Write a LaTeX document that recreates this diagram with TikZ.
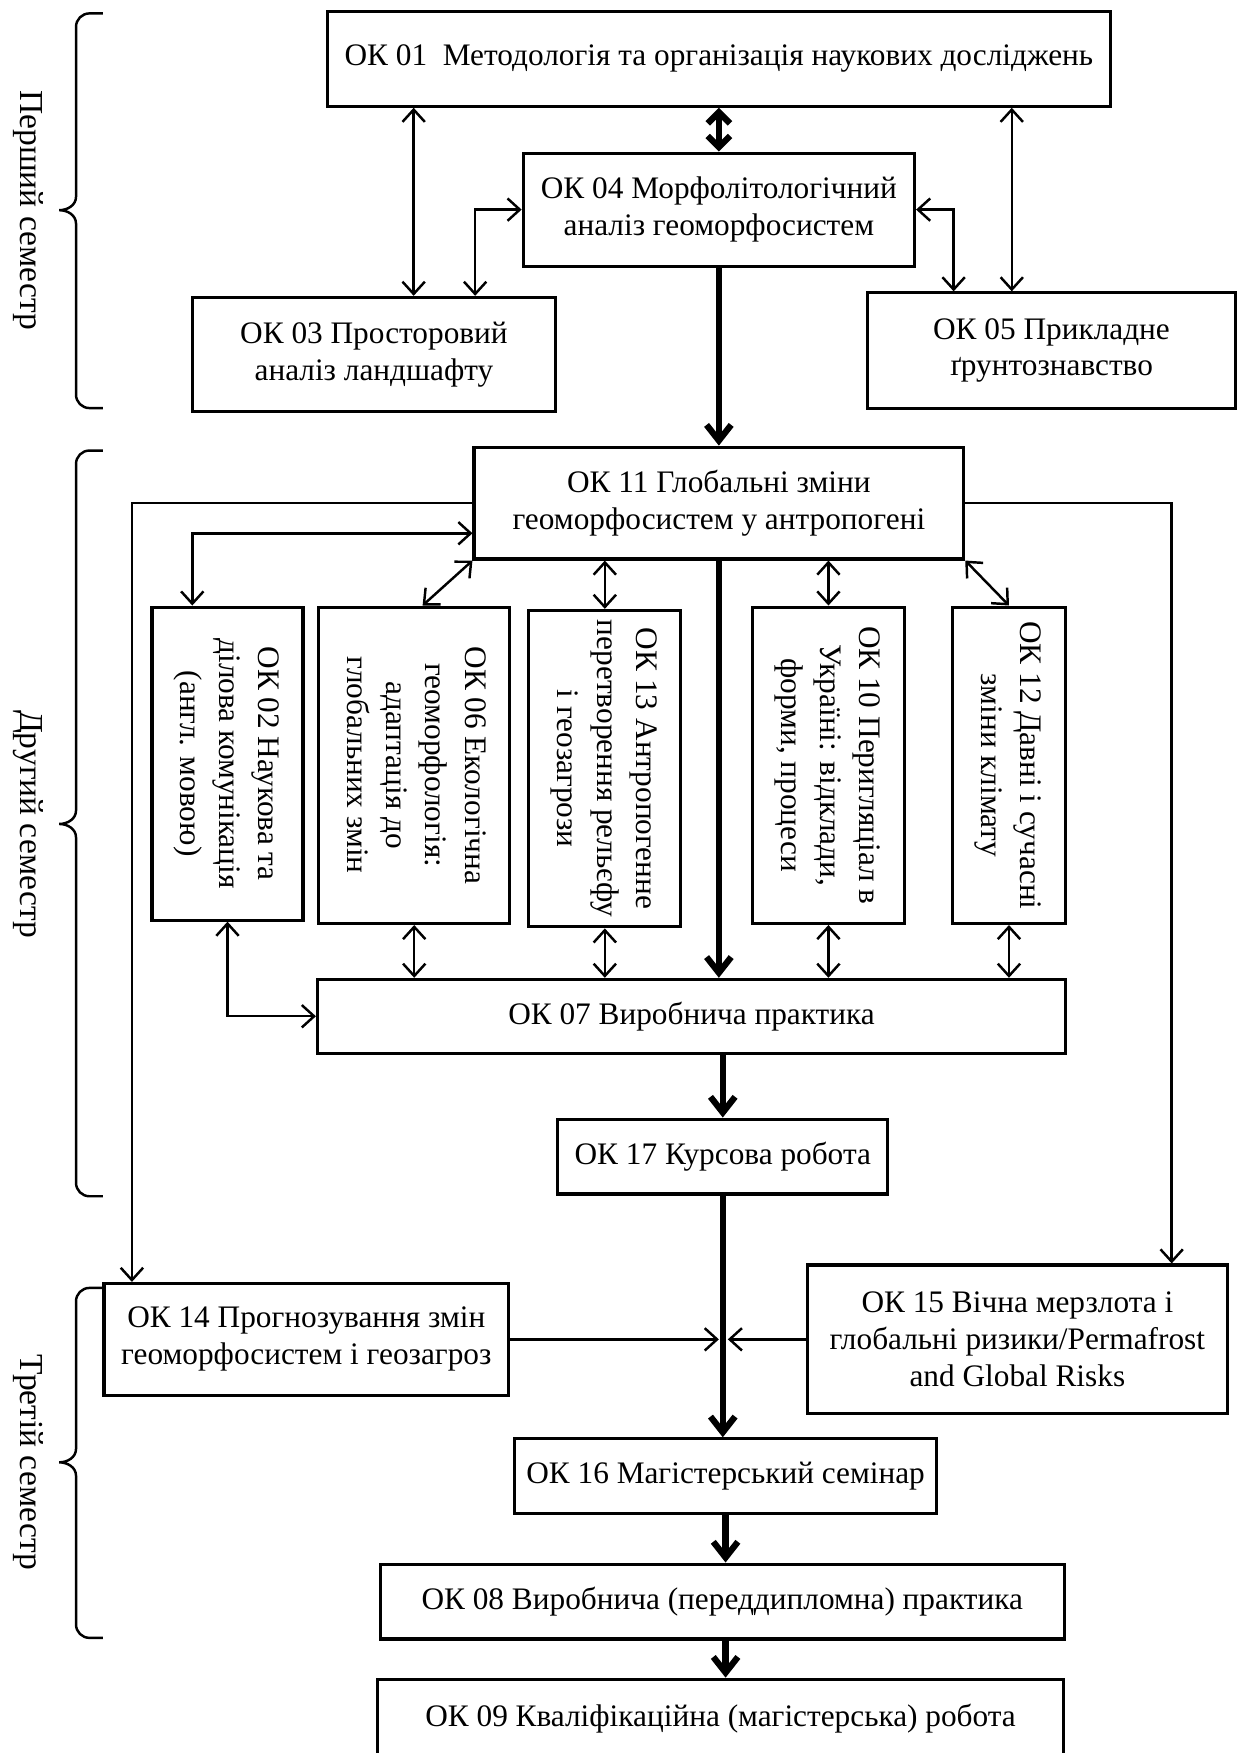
\documentclass[tikz,border=0pt]{standalone}
\usepackage{fontspec}
\setmainfont{Liberation Serif}
\usetikzlibrary{arrows.meta}

\newcommand{\vtext}[1]{\rotatebox{-90}{\begin{tabular}{@{}c@{}}#1\end{tabular}}}

\begin{document}
\begin{tikzpicture}[x=0.5pt, y=-0.5pt,
        box/.style={draw, line width=1.4pt, align=center, inner sep=2pt, font=\fontsize{14}{16.5}\selectfont},
        vbox/.style={box, font=\fontsize{14}{17.5}\selectfont},
        link/.style={line width=1.1pt, >={Straight Barb[length=5.5pt,width=10pt]}},
        heavy/.style={line width=2.8pt, >={Straight Barb[length=7pt,width=11pt]}},
        brc/.style={line width=1.1pt},
        sem/.style={rotate=-90, font=\fontsize{15}{18}\selectfont}]
                \useasboundingbox (0,0) rectangle (1106,1568);
                \node[box, minimum width=350pt, minimum height=42.5pt] (ok01) at (643,52.5) {ОК 01\ \ Методологія та організація наукових досліджень};
                \node[box, minimum width=175pt, minimum height=50.5pt] (ok04) at (643,187.5) {ОК 04 Морфолітологічний\\аналіз геоморфосистем};
                \node[box, minimum width=162.5pt, minimum height=51pt] (ok03) at (334.5,317) {ОК 03 Просторовий\\аналіз ландшафту};
                \node[box, minimum width=164.5pt, minimum height=51.5pt] (ok05) at (940.5,313.5) {ОК 05 Прикладне\\ґрунтознавство};
                \node[box, minimum width=219pt, minimum height=50pt] (ok11) at (643,450) {ОК 11 Глобальні зміни\\геоморфосистем у антропогені};
                \node[vbox, minimum width=67.5pt, minimum height=140pt] (ok02) at (203.5,683) {\vtext{ОК 02 Наукова та\\ділова комунікація\\(англ. мовою)}};
                \node[vbox, minimum width=85.5pt, minimum height=141.5pt] (ok06) at (370.5,684.5) {\vtext{ОК 06 Екологічна\\геоморфологія:\\адаптація до\\глобальних змін}};
                \node[vbox, minimum width=68pt, minimum height=141.5pt] (ok13) at (541,687.5) {\vtext{ОК 13 Антропогенне\\перетворення рельєфу\\і геозагрози}};
                \node[vbox, minimum width=68pt, minimum height=141.5pt] (ok10) at (741,684.5) {\vtext{ОК 10 Перигляціал в\\Україні: відклади,\\форми, процеси}};
                \node[vbox, minimum width=50.5pt, minimum height=141.5pt] (ok12) at (902.5,684.5) {\vtext{ОК 12 Давні і сучасні\\зміни клімату}};
                \node[box, minimum width=334.5pt, minimum height=33pt] (ok07) at (618.5,909) {ОК 07 Виробнича практика};
                \node[box, minimum width=147.5pt, minimum height=33.5pt] (ok17) at (646.5,1034.5) {ОК 17 Курсова робота};
                \node[box, minimum width=181pt, minimum height=50pt] (ok14) at (274,1198) {ОК 14 Прогнозування змін\\геоморфосистем і геозагроз};
                \node[box, minimum width=188pt, minimum height=66.5pt] (ok15) at (910,1198) {ОК 15 Вічна мерзлота і\\глобальні ризики/Permafrost\\and Global Risks};
                \node[box, minimum width=189pt, minimum height=33.5pt] (ok16) at (649,1320.5) {ОК 16 Магістерський семінар};
                \node[box, minimum width=306pt, minimum height=33.5pt] (ok08) at (646,1432.5) {ОК 08 Виробнича (переддипломна) практика};
                \node[box, minimum width=306.5pt, minimum height=35pt] (ok09) at (644.5,1537) {ОК 09 Кваліфікаційна (магістерська) робота};
                \draw[heavy, >={Straight Barb[length=5pt,width=10pt]}, <->] (ok04.north) -- (ok01.south);
                \draw[link, <->] (ok01.south -| 370,0) -- (ok03.north -| 370,0);
                \draw[link, <->] (ok03.north -| 425,0) |- (ok04.west);
                \draw[link, <->] (ok04.east) -| (ok05.north -| 853,0);
                \draw[link, <->] (ok01.south -| 905,0) -- (ok05.north -| 905,0);
                \draw[heavy, ->] (ok04.south) -- (ok11.north);
                \draw[link, ->] (ok11.west) -| (ok14.north -| 118,0);
                \draw[link, ->] (ok11.east) -| (ok15.north -| 1048,0);
                \draw[link, <->] (ok11.west |- 0,477) -| (ok02.north -| 172,0);
                \draw[link, <->] (ok11.south west) -- (ok06.north -| 378,0);
                \draw[link, <->] (ok11.south -| ok13.north) -- (ok13.north);
                \draw[heavy, ->] (ok11.south) -- (ok11.south |- ok07.north);
                \draw[link, <->] (ok11.south -| ok10.north) -- (ok10.north);
                \draw[link, <->] (ok11.south east) -- (ok12.north);
                \draw[link, <->] (ok02.south) |- (ok07.west);
                \draw[link, <->] (ok06.south) -- (ok06.south |- ok07.north);
                \draw[link, <->] (ok13.south) -- (ok13.south |- ok07.north);
                \draw[link, <->] (ok10.south) -- (ok10.south |- ok07.north);
                \draw[link, <->] (ok12.south) -- (ok12.south |- ok07.north);
                \draw[heavy, ->] (ok07.south -| ok17.north) -- (ok17.north);
                \draw[heavy, ->] (ok17.south) -- (ok17.south |- ok16.north);
                \coordinate (merge) at (647,1198);
                \draw[link, ->] (ok14.east) -- ([xshift=-2pt]merge);
                \draw[link, ->] (ok15.west) -- ([xshift=2pt]merge);
                \draw[heavy, ->] (ok16.south) -- (ok16.south |- ok08.north);
                \draw[heavy, ->] (ok16.south |- ok08.south) -- (ok16.south |- ok09.north);
                \draw[brc] (92,12) -- (80,12) to[out=180,in=90] (68,24) -- (68,176) to[out=-90,in=0] (53,188) to[out=0,in=90] (68,200) -- (68,353) to[out=-90,in=180] (80,365) -- (92,365);
                \draw[brc] (92,403) -- (80,403) to[out=180,in=90] (68,415) -- (68,725) to[out=-90,in=0] (53,737) to[out=0,in=90] (68,749) -- (68,1058) to[out=-90,in=180] (80,1070) -- (92,1070);
                \draw[brc] (92,1152) -- (80,1152) to[out=180,in=90] (68,1164) -- (68,1296) to[out=-90,in=0] (53,1308) to[out=0,in=90] (68,1320) -- (68,1453) to[out=-90,in=180] (80,1465) -- (92,1465);
                \node[sem] (sem1) at (25,188) {Перший семестр};
                \node[sem] (sem2) at (25,737) {Другий семестр};
                \node[sem] (sem3) at (25,1308) {Третій семестр};
            \end{tikzpicture}
\end{document}
